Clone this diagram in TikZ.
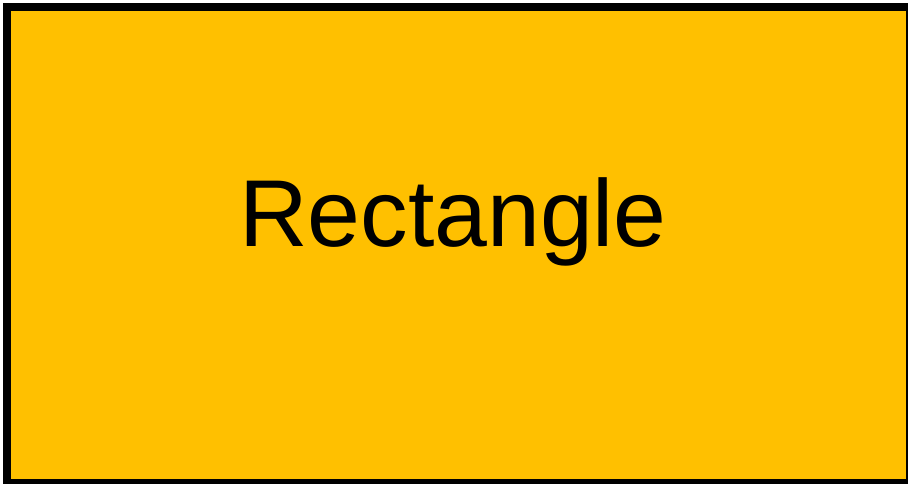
\documentclass[tikz,border=0pt]{standalone}
\usepackage{fontspec}
\setmainfont{Liberation Sans}
\usepackage{xcolor}
\usepackage{tikz}

\definecolor{rectgold}{HTML}{FFC000}

\tikzset{
    shapebox/.style={draw=black, fill=rectgold, line width=8pt},
    shapelabel/.style={font=\fontsize{95}{110}\selectfont, text=black}
}

\begin{document}
\begin{tikzpicture}[x=1pt, y=-1pt]
    % Frame
    \useasboundingbox (0,0) rectangle (908,484);
    \fill[white] (0,0) rectangle (908,484);

    % Rectangle
    \draw[shapebox] (7,7) rectangle (910,483);

    % Label
    \node[shapelabel] (rectlabel) at (453,222) {Rectangle};
\end{tikzpicture}
\end{document}
